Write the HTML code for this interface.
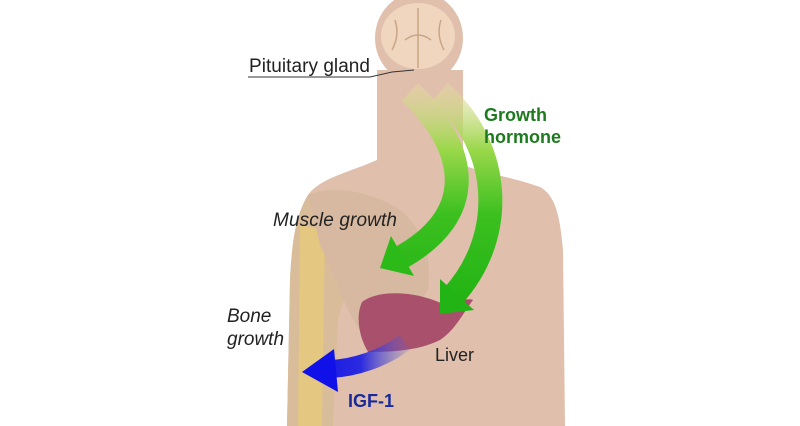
<!DOCTYPE html>
<html><head><meta charset="utf-8"><style>
html,body{margin:0;padding:0;background:#fff;}
svg{display:block;}
text{font-family:"Liberation Sans","DejaVu Sans",sans-serif;}
</style></head><body>
<svg width="800" height="426" viewBox="0 0 800 426" xmlns="http://www.w3.org/2000/svg">
<defs>
<linearGradient id="g1" gradientUnits="userSpaceOnUse" x1="0" y1="85" x2="0" y2="300">
<stop offset="0" stop-color="#e8dca0" stop-opacity="0.4"/>
<stop offset="0.3" stop-color="#9ad84a"/>
<stop offset="0.6" stop-color="#3cc020"/>
<stop offset="1" stop-color="#22b414"/>
</linearGradient>
<linearGradient id="gb" gradientUnits="userSpaceOnUse" x1="410" y1="0" x2="300" y2="0">
<stop offset="0" stop-color="#6060d0" stop-opacity="0.15"/>
<stop offset="0.45" stop-color="#2a2ae0"/>
<stop offset="1" stop-color="#1010e8"/>
</linearGradient>
</defs>
<path d="M377,70 L377,160 C350,172 320,178 308,195 C296,215 292,240 290,280 L287,426 L565,426 L563,250 C560,215 555,195 540,187 C515,178 480,172 463,165 L463,70 Z" fill="#e0c0ac"/>
<ellipse cx="419" cy="38" rx="44" ry="46" fill="#e0c0ac"/>
<ellipse cx="418" cy="36" rx="37" ry="33" fill="#f0d6bf"/>
<path d="M418,8 L418,68 M405,40 Q418,30 431,40 M395,20 Q400,35 392,50 M441,20 Q436,35 444,50" stroke="#c9a585" stroke-width="1.5" fill="none"/>
<path d="M308,195 C296,215 292,240 290,280 L287,426 L333,426 L338,320 C345,290 360,270 375,262 L360,215 C340,200 322,192 308,195 Z" fill="#d9bc9a"/>
<path d="M300,225 L298,426 L322,426 L325,230 Z" fill="#e6c97a" opacity="0.8"/>
<path d="M308,195 C330,185 370,190 400,210 C425,230 432,260 428,290 C410,320 380,335 360,330 C345,310 335,275 320,245 Z" fill="#d6b9a0"/>
<path d="M362,302 C380,288 420,292 445,305 C458,300 470,298 473,300 C462,315 455,330 440,340 C420,350 395,352 368,352 C358,335 356,315 362,302 Z" fill="#a9506c"/>
<path d="M410,92 C470,150 478,215 400,258" stroke="url(#g1)" stroke-width="24" fill="none"/>
<polygon points="380,268 414,276 391,236" fill="#2cba18"/>
<path d="M440,92 C505,150 505,240 452,297" stroke="url(#g1)" stroke-width="24" fill="none"/>
<polygon points="440,314 474,310 440,279" fill="#22b414"/>
<path d="M405,342 C385,358 355,368 330,369" stroke="url(#gb)" stroke-width="18" fill="none"/>
<polygon points="302,372 334,349 338,392" fill="#1010e8"/>
<text x="249" y="72" font-size="19" fill="#222" textLength="121">Pituitary gland</text>
<path d="M248,77 L370,77 L392,72 L414,70" stroke="#333" stroke-width="1" fill="none"/>
<text x="484" y="121" font-size="18" font-weight="bold" fill="#1e7a1e">Growth</text>
<text x="484" y="143" font-size="18" font-weight="bold" fill="#1e7a1e">hormone</text>
<text x="273" y="226" font-size="19" font-style="italic" fill="#222" textLength="124">Muscle growth</text>
<text x="227" y="322" font-size="19" font-style="italic" fill="#222">Bone</text>
<text x="227" y="345" font-size="19" font-style="italic" fill="#222">growth</text>
<text x="435" y="361" font-size="18" fill="#222">Liver</text>
<text x="348" y="407" font-size="18" font-weight="bold" fill="#1a2a9a">IGF-1</text>
</svg>
</body></html>
